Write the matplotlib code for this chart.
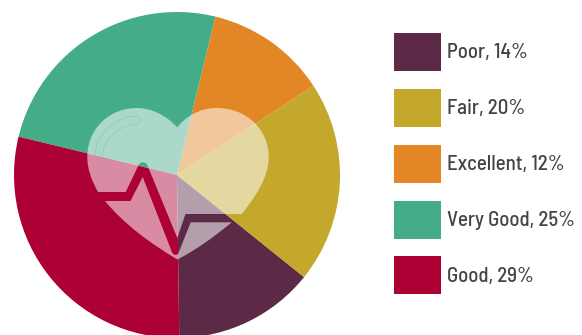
import matplotlib
matplotlib.use('Agg')
import matplotlib.pyplot as plt
from matplotlib.path import Path
from matplotlib.patches import PathPatch, Rectangle

W, H = 582, 335

categories = ['Poor', 'Fair', 'Excellent', 'Very Good', 'Good']
values = [14, 20, 12, 25, 29]
colors = ['#5c2a46', '#c4a82c', '#e28626', '#44ad88', '#ad0035']


def px(pts):
    # pixel coords, y measured from the top
    return [(x, H - y) for x, y in pts]


def shape(start, *segs):
    # builds a closed path from line (1 point) and cubic (3 points) segments
    verts, codes = [start], [Path.MOVETO]
    for s in segs:
        verts += s
        codes += [Path.LINETO] if len(s) == 1 else [Path.CURVE4] * 3
    verts.append(start)
    codes.append(Path.CLOSEPOLY)
    return Path(px(verts), codes)


fig = plt.figure(figsize=(W / 100, H / 100), dpi=100)
ax = fig.add_axes([0, 0, 1, 1])

ax.pie(values, colors=colors, startangle=270.8, counterclock=True,
       center=(177, H - 175), radius=163, frame=True,
       wedgeprops={'linewidth': 0})

ax.set_xlim(0, W)
ax.set_ylim(0, H)
ax.axis('off')

# heart above the ECG trace
heart_top = shape((177.3, 127.5),
                  [(186, 116), (200, 108), (217, 108)],
                  [(247, 108), (268.7, 130), (268.7, 157)],
                  [(268.7, 178), (255, 197), (241.7, 214)],
                  [(185.5, 214)],
                  [(177.3, 238)],
                  [(147.5, 165.5)],
                  [(146, 161.5), (140, 161), (138.3, 165.7)],
                  [(125.7, 192)],
                  [(98, 192)],
                  [(92, 181), (87.3, 170), (87.3, 157)],
                  [(87.3, 130), (108, 108), (137, 108)],
                  [(152, 108), (167, 116), (177.3, 127.5)])

# heart below the ECG trace
heart_bottom = shape((105, 201),
                     [(130.5, 201)],
                     [(142.7, 177)],
                     [(171.7, 251.5)],
                     [(173, 255.5), (177, 256), (178.5, 253)],
                     [(190.7, 222.3)],
                     [(231.7, 222.3)],
                     [(214, 237), (196, 250), (177.3, 259.5)],
                     [(150, 243), (125, 225), (105, 201)])

for p in (heart_top, heart_bottom):
    ax.add_patch(PathPatch(p, facecolor='white', edgecolor='none', alpha=0.55, zorder=3))

# faint highlight on the left lobe
shine = shape((136.7, 116),
              [(113, 117), (96, 135), (95, 155)],
              [(95, 160), (100, 162), (102.3, 157)],
              [(103, 140), (118, 125), (136.7, 124)],
              [(141, 123), (141, 117), (136.7, 116)])
ax.add_patch(PathPatch(shine, facecolor='none', edgecolor='#44ad88', lw=0.4, alpha=0.4, zorder=4))

# legend
box_x, box_w, box_h = 394, 47, 38
box_tops = [33, 89, 145, 201, 256]
for name, val, col, top in zip(categories, values, colors, box_tops):
    ax.add_patch(Rectangle((box_x, H - top - box_h), box_w, box_h, facecolor=col, edgecolor='none'))
    ax.text(447, H - top - box_h / 2 - 1, '{!s}, {!s}%'.format(name, val), color='#444444',
            fontsize=15, fontweight=500, family=['Barlow Semi Condensed', 'Lato'],
            va='center', ha='left')

plt.savefig('out.png', dpi=100)
